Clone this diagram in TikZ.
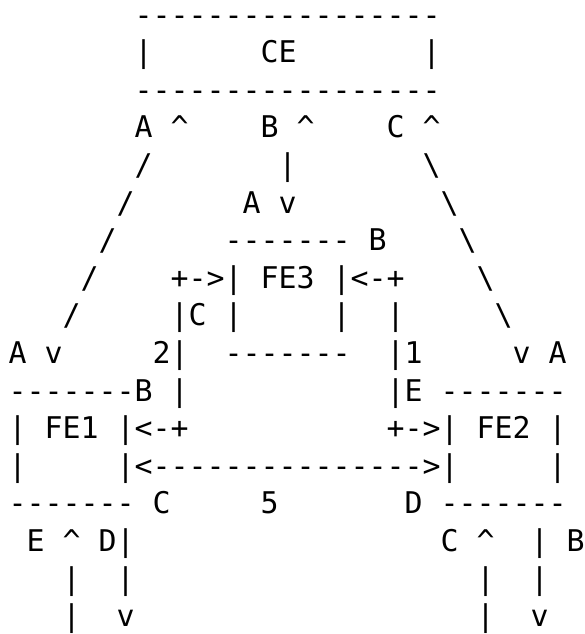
\documentclass[tikz,border=0pt]{standalone}
\usepackage{fontspec}
\setmonofont{DejaVu Sans Mono}
% one run of monospaced characters, placed by row (1 = top) and column (0 = left)
\newcommand\asciiseg[3]{%
  \node[glyph] (r#1c#2) at ({8.7+18*#2},{-25.1-37.6*(#1-1)}) {#3};}
\newcommand\up{\textasciicircum}
\newcommand\bs{\textbackslash}
\begin{document}
\begin{tikzpicture}[x=1pt,y=1pt,
  glyph/.style={anchor=base west,inner sep=0pt,outer sep=0pt,
    font=\ttfamily\fontsize{29.9}{36}\selectfont}]
\useasboundingbox (0,0) rectangle (585,-634);
% CE box
\asciiseg{1}{7}{-----------------}
\asciiseg{2}{7}{|}\asciiseg{2}{14}{CE}\asciiseg{2}{23}{|}
\asciiseg{3}{7}{-----------------}
% ports A, B, C of CE
\asciiseg{4}{7}{A}\asciiseg{4}{9}{\up}
\asciiseg{4}{14}{B}\asciiseg{4}{16}{\up}
\asciiseg{4}{21}{C}\asciiseg{4}{23}{\up}
\asciiseg{5}{7}{/}\asciiseg{5}{15}{|}\asciiseg{5}{23}{\bs}
\asciiseg{6}{6}{/}\asciiseg{6}{13}{A}\asciiseg{6}{15}{v}\asciiseg{6}{24}{\bs}
% FE3
\asciiseg{7}{5}{/}\asciiseg{7}{12}{-------}\asciiseg{7}{20}{B}\asciiseg{7}{25}{\bs}
\asciiseg{8}{4}{/}\asciiseg{8}{9}{+->|}\asciiseg{8}{14}{FE3}\asciiseg{8}{18}{|<-+}\asciiseg{8}{26}{\bs}
\asciiseg{9}{3}{/}\asciiseg{9}{9}{|C}\asciiseg{9}{12}{|}\asciiseg{9}{18}{|}\asciiseg{9}{21}{|}\asciiseg{9}{27}{\bs}
\asciiseg{10}{0}{A}\asciiseg{10}{2}{v}\asciiseg{10}{8}{2|}\asciiseg{10}{12}{-------}
\asciiseg{10}{21}{|1}\asciiseg{10}{28}{v}\asciiseg{10}{30}{A}
% FE1 and FE2
\asciiseg{11}{0}{-------B}\asciiseg{11}{9}{|}\asciiseg{11}{21}{|E}\asciiseg{11}{24}{-------}
\asciiseg{12}{0}{|}\asciiseg{12}{2}{FE1}\asciiseg{12}{6}{|<-+}
\asciiseg{12}{21}{+->|}\asciiseg{12}{26}{FE2}\asciiseg{12}{30}{|}
\asciiseg{13}{0}{|}\asciiseg{13}{6}{|<--------------->|}\asciiseg{13}{30}{|}
\asciiseg{14}{0}{-------}\asciiseg{14}{8}{C}\asciiseg{14}{14}{5}\asciiseg{14}{22}{D}\asciiseg{14}{24}{-------}
% external ports
\asciiseg{15}{1}{E}\asciiseg{15}{3}{\up}\asciiseg{15}{5}{D|}
\asciiseg{15}{24}{C}\asciiseg{15}{26}{\up}\asciiseg{15}{29}{|}\asciiseg{15}{31}{B}
\asciiseg{16}{3}{|}\asciiseg{16}{6}{|}\asciiseg{16}{26}{|}\asciiseg{16}{29}{|}
\asciiseg{17}{3}{|}\asciiseg{17}{6}{v}\asciiseg{17}{26}{|}\asciiseg{17}{29}{v}
\end{tikzpicture}
\end{document}
